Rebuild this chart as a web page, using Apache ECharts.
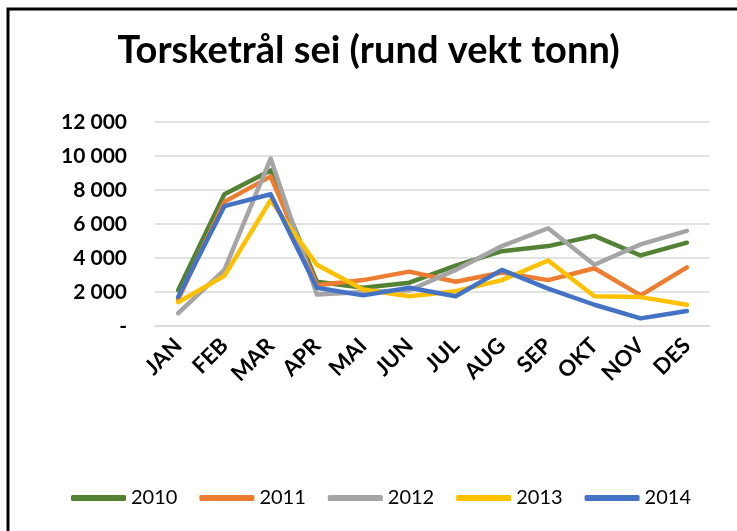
<!DOCTYPE html>
<html>
<head>
<meta charset="utf-8">
<script src="https://cdn.jsdelivr.net/npm/echarts@6/dist/echarts.min.js"></script>
<style>
    html, body { margin: 0; padding: 0; background: #fff; }
    #chart { width: 737px; height: 531px; }
</style>
</head>
<body>
<div id="chart"></div>
<script>
// måneder og fangst per år (tonn)
var months = ['JAN', 'FEB', 'MAR', 'APR', 'MAI', 'JUN', 'JUL', 'AUG', 'SEP', 'OKT', 'NOV', 'DES'];
var years = ['2010', '2011', '2012', '2013', '2014'];
var y2010 = [2100, 7750, 9150, 2600, 2250, 2550, 3550, 4400, 4700, 5300, 4150, 4900];
var y2011 = [1550, 7300, 8800, 2400, 2700, 3200, 2600, 3150, 2700, 3400, 1800, 3450];
var y2012 = [750, 3300, 9850, 1850, 2000, 2100, 3300, 4700, 5750, 3600, 4800, 5600];
var y2013 = [1400, 2950, 7400, 3600, 2150, 1750, 2050, 2700, 3850, 1750, 1700, 1250];
var y2014 = [1700, 7050, 7750, 2250, 1800, 2250, 1750, 3300, 2200, 1250, 450, 880];
var colors = ['#548235', '#ED7D31', '#A5A5A5', '#FFC000', '#4472C4'];

var chart = echarts.init(document.getElementById('chart'));

function makeSeries(name, data) {
    return {
        name: name,
        type: 'line',
        data: data,
        symbol: 'none',
        lineStyle: {width: 4.5, cap: 'round', join: 'round'}
    };
}

var option = {
    backgroundColor: '#fff',
    color: colors,
    animation: false,
    textStyle: {fontFamily: 'Lato'},
    title: {
        text: 'Torsketrål sei (rund vekt tonn)',
        left: 'center',
        top: 27,
        textStyle: {fontSize: 38, fontWeight: 'bold', color: '#000', fontFamily: 'Lato'}
    },
    legend: {
        data: years,
        bottom: 18,
        left: 66,
        icon: 'roundRect',
        itemWidth: 55,
        itemHeight: 6,
        itemGap: 22,
        textStyle: {fontSize: 20, color: '#000', fontFamily: 'Lato'}
    },
    grid: {left: 155, right: 27, top: 122, bottom: 205, containLabel: false},
    xAxis: {
        type: 'category',
        data: months,
        boundaryGap: true,
        axisLine: {lineStyle: {color: '#d9d9d9', width: 1.5}},
        axisTick: {show: false},
        axisLabel: {
            rotate: 45,
            margin: 16,
            interval: 0,
            fontSize: 22,
            fontWeight: 'bold',
            color: '#000',
            fontFamily: 'Lato'
        }
    },
    yAxis: {
        type: 'value',
        min: 0,
        max: 12000,
        interval: 2000,
        axisLine: {show: false},
        axisTick: {show: false},
        splitLine: {lineStyle: {color: '#d9d9d9', width: 1.5}},
        axisLabel: {
            margin: 28,
            fontSize: 21,
            fontWeight: 'bold',
            color: '#000',
            fontFamily: 'Lato',
            formatter: function (v) {
                if (v === 0) return '-';
                return String(v).replace(/\B(?=(\d{3})+(?!\d))/g, ' ');
            }
        }
    },
    graphic: [{
        type: 'rect',
        shape: {x: 8, y: 9, width: 800, height: 600},
        style: {fill: 'none', stroke: '#000', lineWidth: 3},
        silent: true
    }],
    series: [
        makeSeries('2010', y2010),
        makeSeries('2011', y2011),
        makeSeries('2012', y2012),
        makeSeries('2013', y2013),
        makeSeries('2014', y2014)
    ]
};

chart.setOption(option);
</script>
</body>
</html>
